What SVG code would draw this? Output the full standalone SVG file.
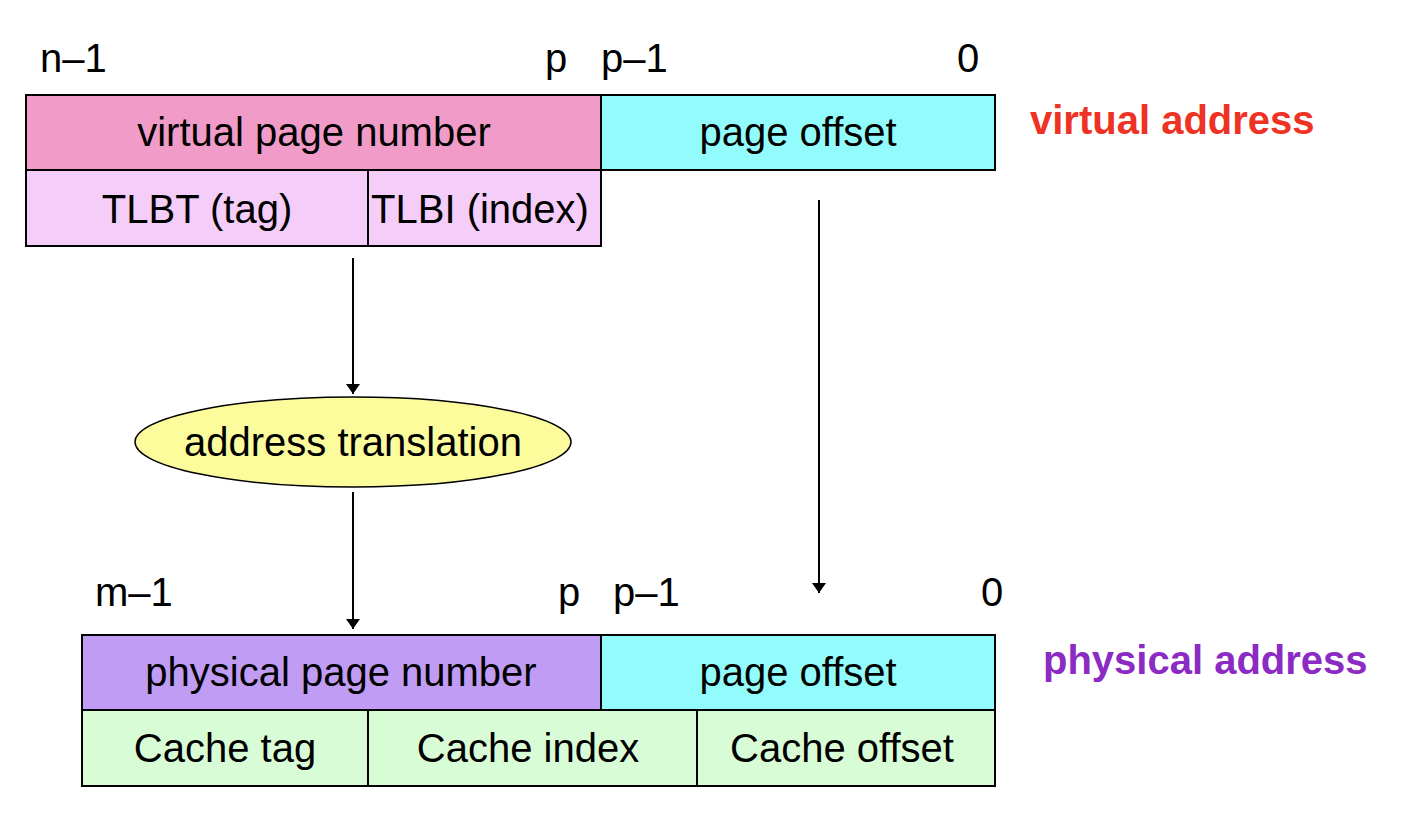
<svg xmlns="http://www.w3.org/2000/svg" width="1424" height="838" viewBox="0 0 1424 838">
<defs>
<style>
.box{stroke:#000;stroke-width:2}
.t{font-family:"Liberation Sans",Arial,sans-serif;font-size:40px;fill:#000}
.m{text-anchor:middle}
.lbl{font-family:"Liberation Sans",Arial,sans-serif;font-size:40px;font-weight:bold}
.conn{stroke:#000;stroke-width:2;fill:none;marker-end:url(#ah)}
</style>
<marker id="ah" viewBox="0 0 10 14" refX="10" refY="7" markerWidth="10" markerHeight="14" markerUnits="userSpaceOnUse" orient="auto">
<path d="M0,0 L10,7 L0,14 Z" fill="#000"/>
</marker>
</defs>
<rect width="1424" height="838" fill="#fff"/>

<g id="virtual-bits">
<text class="t" x="40" y="72">n–1</text>
<text class="t" x="545" y="72">p</text>
<text class="t" x="601" y="72">p–1</text>
<text class="t" x="957" y="72">0</text>
</g>
<g id="vpn">
<rect class="box" x="26" y="95" width="575" height="75" fill="#F19CC8"/>
<text class="t m" x="314" y="146">virtual page number</text>
</g>
<g id="vpo">
<rect class="box" x="601" y="95" width="394" height="75" fill="#92FCFC"/>
<text class="t m" x="798" y="146">page offset</text>
</g>
<g id="tlbt">
<rect class="box" x="26" y="170" width="342" height="76" fill="#F5CDF9"/>
<text class="t m" x="197" y="223">TLBT (tag)</text>
</g>
<g id="tlbi">
<rect class="box" x="368" y="170" width="233" height="76" fill="#F5CDF9"/>
<text class="t m" x="480" y="223">TLBI (index)</text>
</g>
<g id="virtual-label">
<text class="lbl" x="1030" y="134" fill="#EE3224">virtual address</text>
</g>

<g id="translation">
<ellipse cx="353" cy="442" rx="218" ry="45" fill="#FCFC9D" stroke="#000" stroke-width="1.5"/>
<text class="t m" x="353" y="456">address translation</text>
</g>

<g id="physical-bits">
<text class="t" x="95" y="606">m–1</text>
<text class="t" x="558" y="606">p</text>
<text class="t" x="613" y="606">p–1</text>
<text class="t" x="981" y="606">0</text>
</g>
<g id="ppn">
<rect class="box" x="82" y="635" width="519" height="75" fill="#C19CF5"/>
<text class="t m" x="341" y="686">physical page number</text>
</g>
<g id="ppo">
<rect class="box" x="601" y="635" width="394" height="75" fill="#92FCFC"/>
<text class="t m" x="798" y="686">page offset</text>
</g>
<g id="ctag">
<rect class="box" x="82" y="710" width="286" height="76" fill="#D8FCD5"/>
<text class="t m" x="225" y="762">Cache tag</text>
</g>
<g id="cindex">
<rect class="box" x="368" y="710" width="329" height="76" fill="#D8FCD5"/>
<text class="t m" x="528" y="762">Cache index</text>
</g>
<g id="coffset">
<rect class="box" x="697" y="710" width="298" height="76" fill="#D8FCD5"/>
<text class="t m" x="842" y="762">Cache offset</text>
</g>
<g id="physical-label">
<text class="lbl" x="1043" y="674" fill="#8B2BC4">physical address</text>
</g>

<g id="connectors">
<line class="conn" x1="353" y1="258" x2="353" y2="394"/>
<line class="conn" x1="353" y1="492" x2="353" y2="629"/>
<line class="conn" x1="819" y1="200" x2="819" y2="593"/>
</g>
</svg>
